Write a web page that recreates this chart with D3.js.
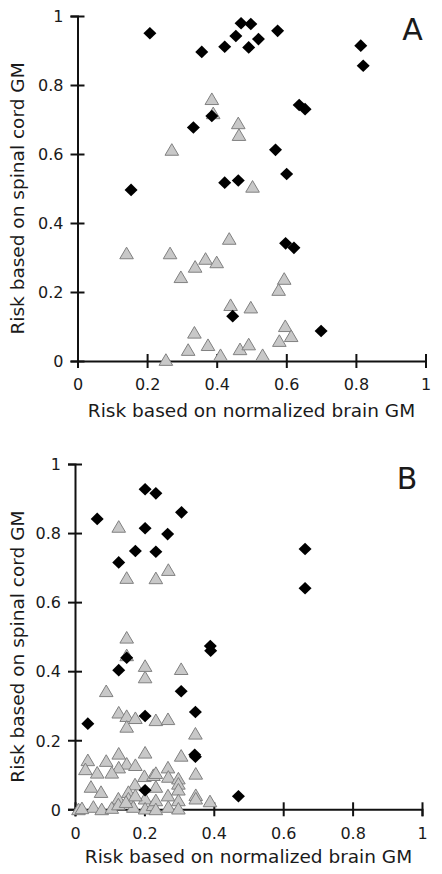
<!DOCTYPE html>
<html>
<head>
<meta charset="utf-8">
<script src="https://cdn.jsdelivr.net/npm/d3@7"></script>
<style>
  html, body { margin: 0; padding: 0; background: #fff; }
  svg { display: block; }
  text { font-family: "DejaVu Sans", sans-serif; fill: #1a1a1a; }
</style>
</head>
<body>
<svg id="chart" width="442" height="874"></svg>
<script>
// ---------- DATA ----------
const tickValues = [0, 0.2, 0.4, 0.6, 0.8, 1];
const xTitle = "Risk based on normalized brain GM";
const yTitle = "Risk based on spinal cord GM";
const panelLabels = ["A", "B"];

// Panel A: black diamonds
const aDiamondX = [0.208,0.470,0.498,0.455,0.575,0.423,0.492,0.520,0.357,0.814,0.821,0.637,0.654,0.386,0.333,0.569,0.601,0.423,0.462,0.154,0.598,0.622,0.446,0.700];
const aDiamondY = [0.950,0.979,0.977,0.942,0.957,0.911,0.909,0.933,0.896,0.914,0.856,0.742,0.730,0.710,0.677,0.612,0.542,0.517,0.523,0.496,0.341,0.328,0.130,0.087];
// Panel A: grey triangles
const aTriangleX = [0.386,0.390,0.462,0.464,0.271,0.503,0.141,0.266,0.436,0.368,0.400,0.338,0.297,0.594,0.578,0.440,0.498,0.336,0.597,0.614,0.580,0.318,0.375,0.467,0.492,0.411,0.532,0.254];
const aTriangleY = [0.759,0.718,0.689,0.655,0.612,0.505,0.312,0.312,0.354,0.296,0.286,0.273,0.243,0.238,0.206,0.162,0.155,0.082,0.101,0.072,0.058,0.032,0.046,0.034,0.048,0.017,0.017,0.003];

// Panel B: black diamonds
const bDiamondX = [0.064,0.202,0.233,0.307,0.202,0.267,0.174,0.233,0.126,0.663,0.663,0.390,0.391,0.149,0.126,0.306,0.347,0.202,0.037,0.347,0.345,0.202,0.471];
const bDiamondY = [0.841,0.927,0.915,0.860,0.814,0.797,0.748,0.746,0.715,0.754,0.640,0.473,0.459,0.439,0.403,0.342,0.282,0.270,0.248,0.152,0.158,0.055,0.038];
// Panel B: grey triangles
const bTriangleX = [0.126,0.149,0.233,0.269,0.149,0.149,0.202,0.202,0.306,0.090,0.126,0.149,0.174,0.233,0.268,0.149,0.347,0.126,0.202,0.306,0.037,0.090,0.149,0.174,0.126,0.030,0.064,0.106,0.268,0.046,0.075,0.173,0.200,0.226,0.154,0.125,0.154,0.168,0.202,0.202,0.010,0.053,0.077,0.106,0.125,0.147,0.225,0.348,0.233,0.269,0.298,0.298,0.298,0.233,0.348,0.348,0.389,0.233,0.233,0.269,0.298,0.298,0.020,0.174,0.268];
const bTriangleY = [0.818,0.670,0.669,0.693,0.497,0.446,0.415,0.382,0.406,0.342,0.280,0.270,0.264,0.258,0.261,0.239,0.219,0.161,0.164,0.155,0.142,0.140,0.132,0.128,0.121,0.116,0.106,0.106,0.121,0.065,0.050,0.072,0.096,0.099,0.050,0.031,0.031,0.007,0.031,0.002,0.000,0.007,0.000,0.004,0.014,0.021,0.012,0.103,0.105,0.094,0.089,0.074,0.057,0.065,0.041,0.031,0.023,0.026,0.000,0.007,0.026,0.002,0.003,0.040,0.040];

// ---------- LAYOUT ----------
const panels = [
  { label: panelLabels[0], xr: [77.5, 425.5], yr: [361, 16],
    dx: aDiamondX, dy: aDiamondY, tx: aTriangleX, ty: aTriangleY,
    labelPos: [412.5, 40], titleY: 417 },
  { label: panelLabels[1], xr: [75, 422], yr: [809.3, 464],
    dx: bDiamondX, dy: bDiamondY, tx: bTriangleX, ty: bTriangleY,
    labelPos: [407, 489.3], titleY: 862.5 }
];

const svg = d3.select("#chart");
const fmt = d3.format("~g");
const titleSize = 18.5;
const tickSize = 16;

const diamondPath = "M0,-6.3L6.5,0L0,6.3L-6.5,0Z";
const trianglePath = "M0,-6.2L6.8,5.4L-6.8,5.4Z";

panels.forEach(p => {
  const x = d3.scaleLinear().domain([0, 1]).range(p.xr);
  const y = d3.scaleLinear().domain([0, 1]).range(p.yr);
  const g = svg.append("g");

  // x axis
  const xAxis = g.append("g")
    .attr("transform", `translate(0,${p.yr[0]})`)
    .call(d3.axisBottom(x).tickValues(tickValues).tickFormat(fmt).tickSizeOuter(0).tickSize(7).tickPadding(0));
  xAxis.select(".domain").attr("stroke", "#111").attr("stroke-width", 2);
  xAxis.selectAll(".tick line").attr("y1", -7).attr("y2", 7).attr("stroke", "#111").attr("stroke-width", 2);
  xAxis.selectAll(".tick text").attr("y", 29.3).attr("dy", null)
    .style("font-size", tickSize + "px").style("font-family", "DejaVu Sans").attr("fill", "#1a1a1a");

  // y axis
  const yAxis = g.append("g")
    .attr("transform", `translate(${p.xr[0]},0)`)
    .call(d3.axisLeft(y).tickValues(tickValues).tickFormat(fmt).tickSizeOuter(0).tickSize(7).tickPadding(0));
  yAxis.select(".domain").attr("stroke", "#111").attr("stroke-width", 2);
  yAxis.selectAll(".tick line").attr("x1", -7).attr("x2", 7).attr("stroke", "#111").attr("stroke-width", 2);
  yAxis.selectAll(".tick text").attr("x", -14).attr("dy", "0.36em")
    .style("font-size", tickSize + "px").style("font-family", "DejaVu Sans").attr("fill", "#1a1a1a");

  // axis titles
  g.append("text")
    .attr("x", (p.xr[0] + p.xr[1]) / 2)
    .attr("y", p.titleY)
    .attr("text-anchor", "middle")
    .style("font-size", titleSize + "px")
    .text(xTitle);
  g.append("text")
    .attr("transform", `translate(24,${(p.yr[0] + p.yr[1]) / 2 + 10}) rotate(-90)`)
    .attr("text-anchor", "middle")
    .style("font-size", titleSize + "px")
    .text(yTitle);

  // panel letter
  g.append("text")
    .attr("x", p.labelPos[0]).attr("y", p.labelPos[1])
    .attr("text-anchor", "middle")
    .style("font-size", "30px")
    .text(p.label);

  // triangles (drawn first)
  const triData = p.tx.map((v, i) => [v, p.ty[i]]);
  g.append("g").selectAll("path").data(triData).join("path")
    .attr("d", trianglePath)
    .attr("transform", d => `translate(${x(d[0])},${y(d[1])})`)
    .attr("fill", "#c8c8c8")
    .attr("stroke", "#808080")
    .attr("stroke-width", 1);

  // diamonds
  const diaData = p.dx.map((v, i) => [v, p.dy[i]]);
  g.append("g").selectAll("path").data(diaData).join("path")
    .attr("d", diamondPath)
    .attr("transform", d => `translate(${x(d[0])},${y(d[1])})`)
    .attr("fill", "#000");
});
</script>
</body>
</html>
